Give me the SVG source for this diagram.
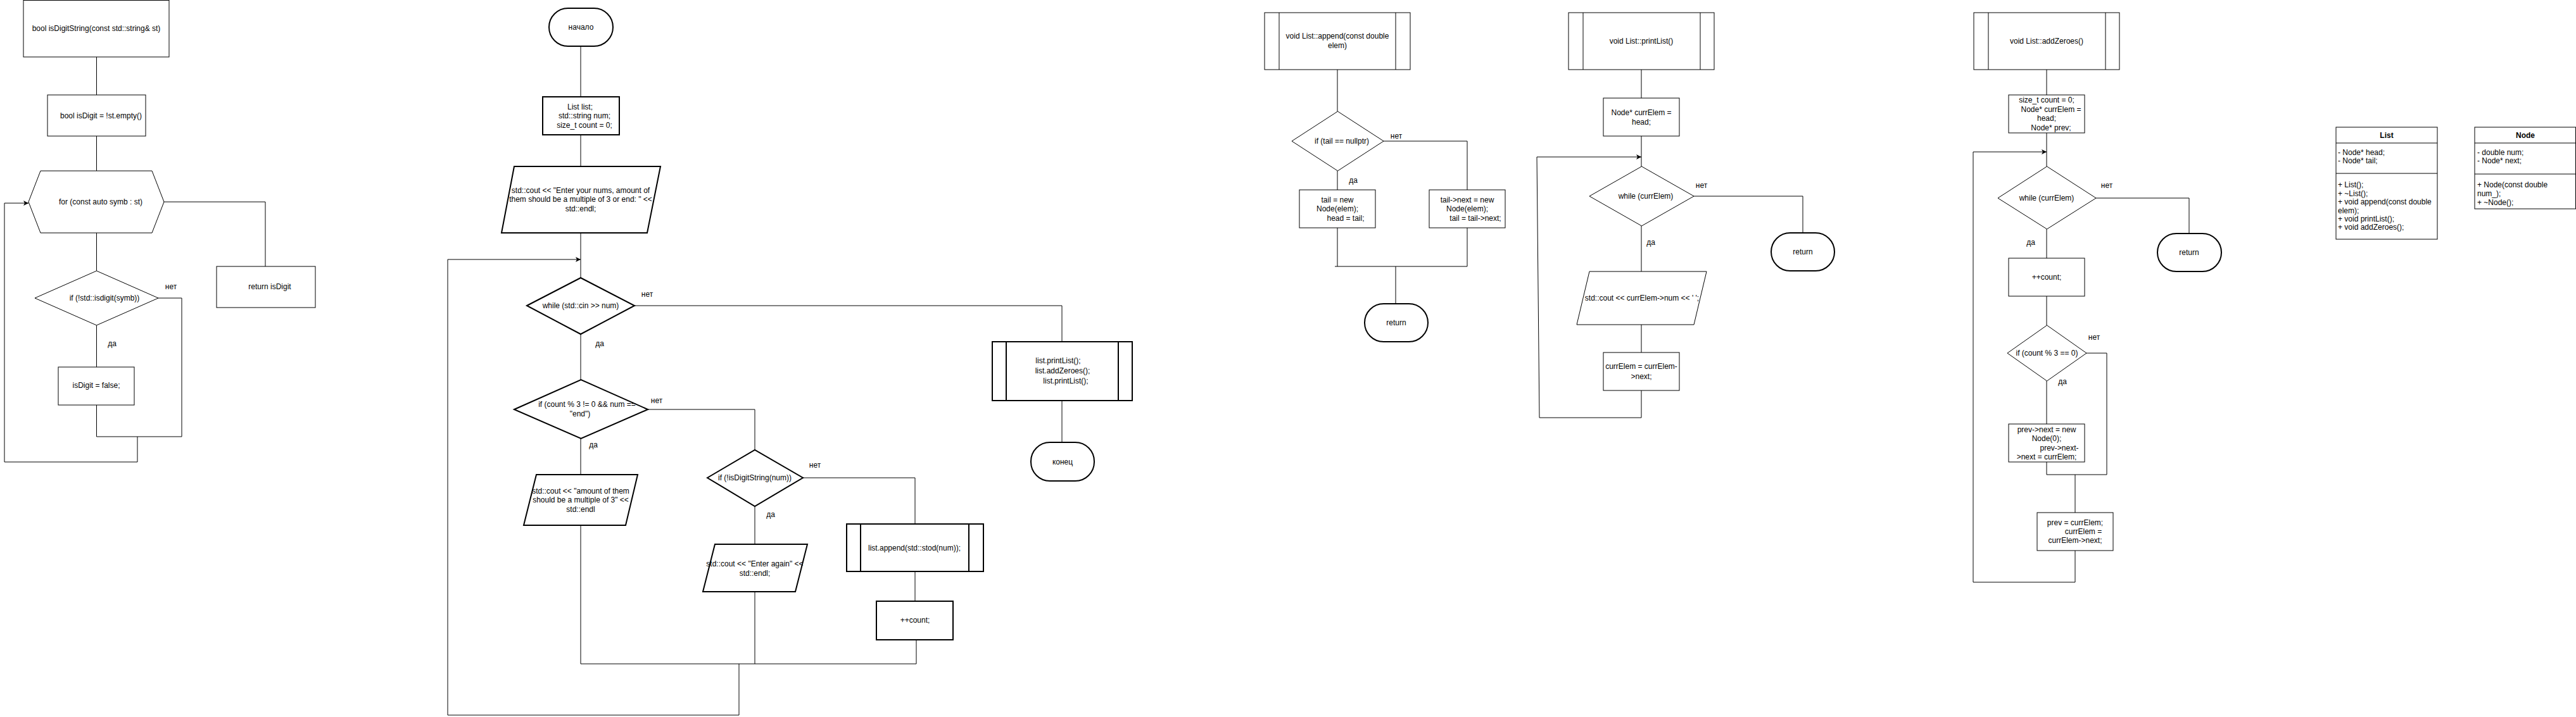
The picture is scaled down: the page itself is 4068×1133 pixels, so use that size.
<svg xmlns="http://www.w3.org/2000/svg" width="4068" height="1133" viewBox="0 0 4068 1133">
<defs>
<style>
.n{fill:#fff;stroke:#000;stroke-width:1}
.k{fill:#fff;stroke:#000;stroke-width:2}
.c{fill:none;stroke:#000;stroke-width:1}
text{font-family:"Liberation Sans",Arial,sans-serif;font-size:12px;fill:#000;text-anchor:middle}
.l{text-anchor:start}
.b{font-weight:bold}
</style>
<marker id="ar" markerWidth="9" markerHeight="8" refX="8" refY="4" orient="auto" markerUnits="userSpaceOnUse">
<path d="M0,0 L8,4 L0,8 L2,4 z" fill="#000"/>
</marker>
</defs>
<rect width="4068" height="1133" fill="#fff"/>

<g id="connectors">
<!-- left chart -->
<path class="c" d="M152.5,90 V150"/>
<path class="c" d="M152.5,215 V270"/>
<path class="c" d="M259,319 H419 V421"/>
<path class="c" d="M152.5,368 V428"/>
<path class="c" d="M250,471 H287 V690 H152.5"/>
<path class="c" d="M152.5,514 V580"/>
<path class="c" d="M152.5,640 V690"/>
<path class="c" d="M217,690 V730 H7 V321 H45" marker-end="url(#ar)"/>
<!-- main chart -->
<path class="c" d="M917,73 V153"/>
<path class="c" d="M917,213 V263"/>
<path class="c" d="M917,368 V439"/>
<path class="c" d="M1167,1049 V1130 H707 V410 H917" marker-end="url(#ar)"/>
<path class="c" d="M1002,483 H1677 V540"/>
<path class="c" d="M1677,633 V699"/>
<path class="c" d="M917,528 V600"/>
<path class="c" d="M1023,647 H1192 V711"/>
<path class="c" d="M917,693 V750"/>
<path class="c" d="M917,830 V1049"/>
<path class="c" d="M1192,800 V860"/>
<path class="c" d="M1268,755 H1445 V828"/>
<path class="c" d="M1445,903 V950"/>
<path class="c" d="M1192,935 V1049"/>
<path class="c" d="M1447,1011 V1049 H917"/>
<!-- append -->
<path class="c" d="M2112,110 V176"/>
<path class="c" d="M2185,223 H2317 V300"/>
<path class="c" d="M2112,270 V300"/>
<path class="c" d="M2112,360 V421"/>
<path class="c" d="M2317,360 V421 H2108"/>
<path class="c" d="M2204,421 V480"/>
<!-- printList -->
<path class="c" d="M2592,110 V155"/>
<path class="c" d="M2592,215 V263"/>
<path class="c" d="M2675,310 H2847 V368"/>
<path class="c" d="M2592,357 V429"/>
<path class="c" d="M2592,513 V557"/>
<path class="c" d="M2592,617 V660 H2431 L2427,248 H2592" marker-end="url(#ar)"/>
<!-- addZeroes -->
<path class="c" d="M3232,110 V150"/>
<path class="c" d="M3232,210 V263"/>
<path class="c" d="M3310,313 H3457 V369"/>
<path class="c" d="M3232,362 V408"/>
<path class="c" d="M3232,468 V514"/>
<path class="c" d="M3295,558 H3327 V750 H3232"/>
<path class="c" d="M3232,602 V670"/>
<path class="c" d="M3232,730 V750"/>
<path class="c" d="M3277,750 V810"/>
<path class="c" d="M3277,870 V920 H3116 V240 H3232" marker-end="url(#ar)"/>
</g>

<g id="labels">
<text x="270" y="457">нет</text>
<text x="177" y="547">да</text>
<text x="1022" y="469">нет</text>
<text x="947" y="547">да</text>
<text x="1037" y="637">нет</text>
<text x="937" y="707">да</text>
<text x="1287" y="739">нет</text>
<text x="1217" y="817">да</text>
<text x="2205" y="219">нет</text>
<text x="2137" y="289">да</text>
<text x="2687" y="297">нет</text>
<text x="2607" y="387">да</text>
<text x="3327" y="297">нет</text>
<text x="3207" y="387">да</text>
<text x="3307" y="537">нет</text>
<text x="3257" y="607">да</text>
</g>

<!-- left chart: isDigitString -->
<g id="isDigitString">
<rect class="n" x="37" y="0.5" width="230" height="89.5"/>
<text x="152" y="49">bool isDigitString(const std::string&amp; st)</text>
</g>
<g id="isDigitInit">
<rect class="n" x="75" y="150" width="155" height="65"/>
<text x="159.5" y="187">bool isDigit = !st.empty()</text>
</g>
<g id="forLoop">
<polygon class="n" points="45,319 64,270 240,270 259,319 240,368 64,368"/>
<text x="159" y="323">for (const auto symb : st)</text>
</g>
<g id="ifIsDigit">
<polygon class="n" points="55,471 152.5,428 250,471 152.5,514"/>
<text x="165" y="475">if (!std::isdigit(symb))</text>
</g>
<g id="setFalse">
<rect class="n" x="92" y="580" width="120" height="60"/>
<text x="152" y="613">isDigit = false;</text>
</g>
<g id="returnIsDigit">
<rect class="n" x="342" y="421" width="156" height="65"/>
<text x="426" y="457">return isDigit</text>
</g>

<!-- main chart -->
<g id="start">
<rect class="k" x="867" y="13" width="101" height="60" rx="30" ry="30"/>
<text x="917.5" y="47">начало</text>
</g>
<g id="decl">
<rect class="k" x="857" y="153" width="121" height="60"/>
<text x="916" y="173">List list;</text>
<text x="923" y="187">std::string num;</text>
<text x="923" y="202">size_t count = 0;</text>
</g>
<g id="promptInput">
<polygon class="k" points="812,263 1043,263 1022,368 792,368"/>
<text x="917" y="305">std::cout &lt;&lt; "Enter your nums, amount of</text>
<text x="917" y="319">them should be a multiple of 3 or end: " &lt;&lt;</text>
<text x="917" y="334">std::endl;</text>
</g>
<g id="whileCin">
<polygon class="k" points="832,483 917,439 1002,483 917,528"/>
<text x="917" y="487">while (std::cin &gt;&gt; num)</text>
</g>
<g id="ifEnd">
<polygon class="k" points="812,647 917.5,600 1023,647 917.5,693"/>
<text x="927" y="643">if (count % 3 != 0 &amp;&amp; num ==</text>
<text x="916" y="658">"end")</text>
</g>
<g id="amountMsg">
<polygon class="k" points="847,750 1007,750 988,830 827,830"/>
<text x="917" y="780">std::cout &lt;&lt; "amount of them</text>
<text x="917" y="794">should be a multiple of 3" &lt;&lt;</text>
<text x="917" y="809">std::endl</text>
</g>
<g id="ifDigitStr">
<polygon class="k" points="1117,755 1192,711 1268,755 1192,800"/>
<text x="1192" y="759">if (!isDigitString(num))</text>
</g>
<g id="enterAgain">
<polygon class="k" points="1129,860 1275,860 1256,935 1110,935"/>
<text x="1192" y="895">std::cout &lt;&lt; "Enter again" &lt;&lt;</text>
<text x="1192" y="910">std::endl;</text>
</g>
<g id="appendCall">
<rect class="k" x="1337" y="828" width="216" height="75"/>
<path class="k" d="M1359,828 V903 M1530,828 V903"/>
<text x="1444" y="870">list.append(std::stod(num));</text>
</g>
<g id="incCount">
<rect class="k" x="1384" y="950" width="121" height="61"/>
<text x="1445" y="984">++count;</text>
</g>
<g id="printCalls">
<rect class="k" x="1567" y="540" width="221" height="93"/>
<path class="k" d="M1589,540 V633 M1766,540 V633"/>
<text x="1671" y="574">list.printList();</text>
<text x="1678" y="590">list.addZeroes();</text>
<text x="1683" y="606">list.printList();</text>
</g>
<g id="end">
<rect class="k" x="1628" y="699" width="100" height="61" rx="30" ry="30"/>
<text x="1678" y="734">конец</text>
</g>

<!-- append -->
<g id="appendHeader">
<rect class="n" x="1997" y="20" width="230" height="90"/>
<path class="n" d="M2020,20 V110 M2204,20 V110"/>
<text x="2112" y="61">void List::append(const double</text>
<text x="2112" y="76">elem)</text>
</g>
<g id="ifTailNull">
<polygon class="n" points="2040,223 2112.5,176 2185,223 2112.5,270"/>
<text x="2119" y="227">if (tail == nullptr)</text>
</g>
<g id="tailNew">
<rect class="n" x="2052" y="300" width="120" height="60"/>
<text x="2112" y="320">tail = new</text>
<text x="2112" y="334">Node(elem);</text>
<text x="2125" y="349">head = tail;</text>
</g>
<g id="tailNext">
<rect class="n" x="2257" y="300" width="120" height="60"/>
<text x="2317" y="320">tail-&gt;next = new</text>
<text x="2317" y="334">Node(elem);</text>
<text x="2330" y="349">tail = tail-&gt;next;</text>
</g>
<g id="appendReturn">
<rect class="k" x="2155" y="480" width="100" height="60" rx="30" ry="30"/>
<text x="2205" y="514">return</text>
</g>

<!-- printList -->
<g id="printHeader">
<rect class="n" x="2477" y="20" width="230" height="90"/>
<path class="n" d="M2500,20 V110 M2685,20 V110"/>
<text x="2592" y="69">void List::printList()</text>
</g>
<g id="printInit">
<rect class="n" x="2532" y="155" width="120" height="60"/>
<text x="2592" y="182">Node* currElem =</text>
<text x="2592" y="197">head;</text>
</g>
<g id="printWhile">
<polygon class="n" points="2510,310 2592.5,263 2675,310 2592.5,357"/>
<text x="2599" y="314">while (currElem)</text>
</g>
<g id="printOut">
<polygon class="n" points="2510,429 2695,429 2675,513 2490,513"/>
<text x="2593" y="475">std::cout &lt;&lt; currElem-&gt;num &lt;&lt; ' ';</text>
</g>
<g id="printNext">
<rect class="n" x="2532" y="557" width="120" height="60"/>
<text x="2592" y="583">currElem = currElem-</text>
<text x="2592" y="599">&gt;next;</text>
</g>
<g id="printReturn">
<rect class="k" x="2797" y="368" width="100" height="60" rx="30" ry="30"/>
<text x="2847" y="402">return</text>
</g>

<!-- addZeroes -->
<g id="zeroHeader">
<rect class="n" x="3117" y="20" width="230" height="90"/>
<path class="n" d="M3140,20 V110 M3325,20 V110"/>
<text x="3232" y="69">void List::addZeroes()</text>
</g>
<g id="zeroInit">
<rect class="n" x="3172" y="150" width="120" height="60"/>
<text x="3232" y="162">size_t count = 0;</text>
<text x="3239" y="177">Node* currElem =</text>
<text x="3232" y="191">head;</text>
<text x="3239" y="206">Node* prev;</text>
</g>
<g id="zeroWhile">
<polygon class="n" points="3155,313 3232.5,263 3310,313 3232.5,362"/>
<text x="3232" y="317">while (currElem)</text>
</g>
<g id="zeroInc">
<rect class="n" x="3172" y="408" width="120" height="60"/>
<text x="3232" y="442">++count;</text>
</g>
<g id="zeroIf">
<polygon class="n" points="3170,558 3232.5,514 3295,558 3232.5,602"/>
<text x="3232.5" y="562">if (count % 3 == 0)</text>
</g>
<g id="zeroInsert">
<rect class="n" x="3172" y="670" width="120" height="60"/>
<text x="3232" y="683">prev-&gt;next = new</text>
<text x="3232" y="697">Node(0);</text>
<text x="3252" y="712">prev-&gt;next-</text>
<text x="3232" y="726">&gt;next = currElem;</text>
</g>
<g id="zeroAdvance">
<rect class="n" x="3217" y="810" width="120" height="60"/>
<text x="3277" y="830">prev = currElem;</text>
<text x="3290" y="844">currElem =</text>
<text x="3277" y="858">currElem-&gt;next;</text>
</g>
<g id="zeroReturn">
<rect class="k" x="3407" y="369" width="101" height="60" rx="30" ry="30"/>
<text x="3457" y="403">return</text>
</g>

<!-- classes -->
<g id="classList">
<rect class="n" x="3689" y="201" width="160" height="177"/>
<path class="n" d="M3689,226 H3849 M3689,274 H3849"/>
<text class="b" x="3769" y="218">List</text>
<text class="l" x="3692" y="245">- Node* head;</text>
<text class="l" x="3692" y="258">- Node* tail;</text>
<text class="l" x="3692" y="296">+ List();</text>
<text class="l" x="3692" y="310">+ ~List();</text>
<text class="l" x="3692" y="323">+ void append(const double</text>
<text class="l" x="3692" y="337">elem);</text>
<text class="l" x="3692" y="350">+ void printList();</text>
<text class="l" x="3692" y="363">+ void addZeroes();</text>
</g>
<g id="classNode">
<rect class="n" x="3908" y="201" width="159.5" height="129"/>
<path class="n" d="M3908,226 H4067.5 M3908,275 H4067.5"/>
<text class="b" x="3988" y="218">Node</text>
<text class="l" x="3912" y="245">- double num;</text>
<text class="l" x="3912" y="258">- Node* next;</text>
<text class="l" x="3912" y="296">+ Node(const double</text>
<text class="l" x="3912" y="310">num_);</text>
<text class="l" x="3912" y="324"> + ~Node();</text>
</g>
</svg>
